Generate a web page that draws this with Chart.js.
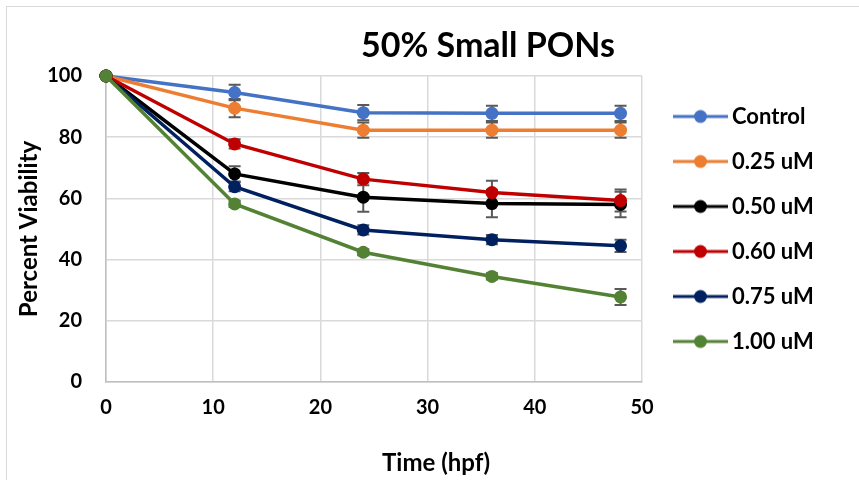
<!DOCTYPE html>
<html>
<head>
<meta charset="utf-8">
<script src="https://cdn.jsdelivr.net/npm/chart.js@4.4.0/dist/chart.umd.min.js"></script>
<style>
  html, body { margin: 0; padding: 0; background: #fff; overflow: hidden; }
  #wrap { position: relative; width: 859px; height: 480px; }
  #frame { position: absolute; left: 6px; top: 6px; width: 900px; height: 520px; border: 1px solid #d9d9d9; }
  canvas { position: absolute; left: 0; top: 0; }
</style>
</head>
<body>
<div id="wrap">
  <div id="frame"></div>
  <canvas id="chart" width="859" height="480"></canvas>
</div>
<script>
// time points (hpf) and viability per concentration
const times = [0, 12, 24, 36, 48];
const seriesNames = ['Control', '0.25 uM', '0.50 uM', '0.60 uM', '0.75 uM', '1.00 uM'];
const control = [100, 94.6, 88.0, 87.8, 87.8];
const conc025 = [100, 89.5, 82.3, 82.3, 82.3];
const conc050 = [100, 68.0, 60.4, 58.3, 58.0];
const conc060 = [100, 77.8, 66.3, 61.9, 59.3];
const conc075 = [100, 63.8, 49.7, 46.5, 44.5];
const conc100 = [100, 58.2, 42.4, 34.5, 27.8];

// error bar half heights
const errControl = [0, 2.5, 2.5, 2.5, 2.5];
const err025 = [0, 3, 2.5, 2.5, 2.5];
const err050 = [0, 2.5, 4.8, 4.5, 4.2];
const err060 = [0, 1.5, 2, 3.9, 3.6];
const err075 = [0, 1.5, 1.5, 1.5, 2];
const err100 = [0, 1, 1, 1, 2.6];

const xTicks = [0, 10, 20, 30, 40, 50];
const yTicks = [0, 20, 40, 60, 80, 100];

const colors = ['#4472C4', '#ED7D31', '#000000', '#C00000', '#002060', '#548235'];
const values = [control, conc025, conc050, conc060, conc075, conc100];
const errors = [errControl, err025, err050, err060, err075, err100];

const FONT = 'Lato';

function makeIcon(color) {
  const c = document.createElement('canvas');
  c.width = 70; c.height = 16;
  const g = c.getContext('2d');
  g.strokeStyle = color;
  g.lineWidth = 3;
  g.beginPath(); g.moveTo(15, 8); g.lineTo(70, 8); g.stroke();
  g.fillStyle = color;
  g.beginPath(); g.arc(42.5, 8, 6.5, 0, Math.PI * 2); g.fill();
  return c;
}
const legendIcons = colors.map(makeIcon);

// legend width, so the plot ends at x = 642
const m = document.createElement('canvas').getContext('2d');
m.font = 'bold 22px ' + FONT;
const textW = Math.max(...seriesNames.map(n => m.measureText(n).width));
const padRight = 859 - 642 - (23 + 56 + 11 + textW + 10);

const errorBars = {
  id: 'errorBars',
  beforeDatasetsDraw(chart) {
    const {ctx, scales: {x, y}} = chart;
    ctx.save();
    ctx.strokeStyle = '#595959';
    ctx.lineWidth = 2;
    errors.forEach((errs, i) => {
      values[i].forEach((v, j) => {
        const e = errs[j];
        if (!e) return;
        const px = x.getPixelForValue(times[j]);
        const top = y.getPixelForValue(v + e);
        const bot = y.getPixelForValue(v - e);
        ctx.beginPath();
        ctx.moveTo(px, top); ctx.lineTo(px, bot);
        ctx.moveTo(px - 6, top); ctx.lineTo(px + 6, top);
        ctx.moveTo(px - 6, bot); ctx.lineTo(px + 6, bot);
        ctx.stroke();
      });
    });
    ctx.restore();
  }
};

const textLabels = {
  id: 'textLabels',
  afterDraw(chart) {
    const ctx = chart.ctx;
    ctx.save();
    ctx.fillStyle = '#000';
    ctx.textAlign = 'center';
    ctx.textBaseline = 'middle';
    ctx.font = 'bold 34px ' + FONT;
    ctx.fillText('50% Small PONs', 488, 46);
    ctx.font = 'bold 24px ' + FONT;
    ctx.fillText('Time (hpf)', 436, 463);
    ctx.restore();
  }
};

const tickFont = { family: FONT, size: 20, weight: 'bold' };

new Chart(document.getElementById('chart'), {
  type: 'line',
  data: {
    datasets: seriesNames.map((name, i) => ({
      label: name,
      data: times.map((t, j) => ({ x: t, y: values[i][j] })),
      borderColor: colors[i],
      backgroundColor: colors[i],
      borderWidth: 3.5,
      pointRadius: 6.5,
      pointBorderWidth: 0,
      pointBackgroundColor: colors[i],
      order: 5 - i,
      clip: false
    }))
  },
  options: {
    responsive: false,
    animation: false,
    layout: { padding: { top: 76, right: padRight, bottom: 0, left: 0 } },
    plugins: {
      tooltip: { enabled: false },
      legend: {
        position: 'right',
        fullSize: false,
        align: 'center',
        labels: {
          usePointStyle: true,
          pointStyleWidth: 56,
          padding: 23,
          color: '#000',
          font: { family: FONT, size: 22, weight: 'bold' },
          generateLabels: chart => Chart.defaults.plugins.legend.labels.generateLabels(chart)
            .map(item => ({ ...item, pointStyle: legendIcons[item.datasetIndex] })),
          sort: (a, b) => a.datasetIndex - b.datasetIndex
        }
      }
    },
    scales: {
      x: {
        type: 'linear',
        min: 0,
        max: 50,
        afterBuildTicks: s => { s.ticks = xTicks.map(v => ({ value: v })); },
        afterFit: s => { s.height = 98; },
        ticks: { padding: 14, color: '#000', font: tickFont },
        grid: { color: '#d9d9d9', lineWidth: 1.5, drawTicks: false },
        border: { color: '#bfbfbf', width: 1.5 }
      },
      y: {
        min: 0,
        max: 100,
        afterBuildTicks: s => { s.ticks = yTicks.map(v => ({ value: v })); },
        afterFit: s => { s.width = 106; },
        ticks: { padding: 24, color: '#000', font: tickFont },
        grid: { color: '#d9d9d9', lineWidth: 1.5, drawTicks: false },
        border: { color: '#bfbfbf', width: 1.5 },
        title: {
          display: true,
          text: 'Percent Viability',
          color: '#000',
          font: { family: FONT, size: 24, weight: 'bold' },
          padding: { top: 15, bottom: 0 }
        }
      }
    }
  },
  plugins: [errorBars, textLabels]
});
</script>
</body>
</html>
